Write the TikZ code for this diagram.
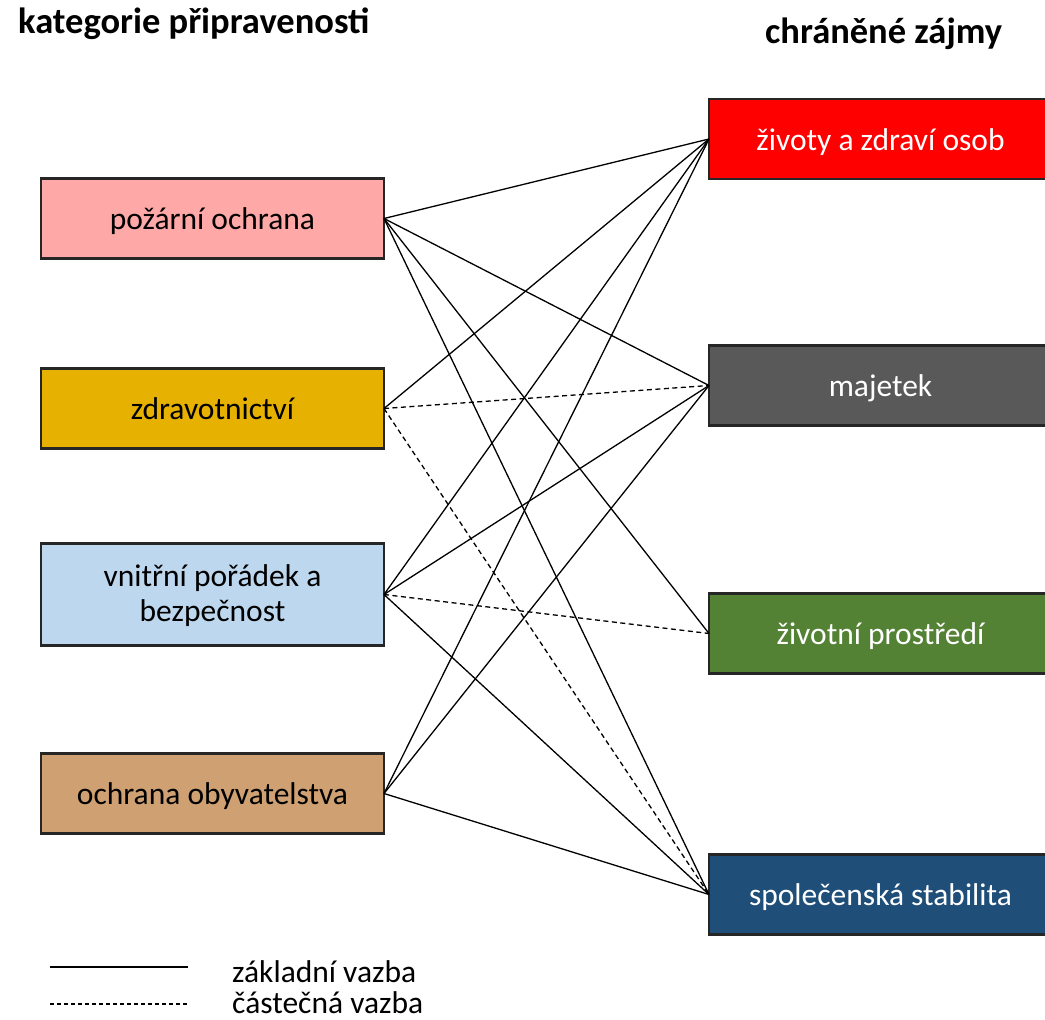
\documentclass[tikz,border=0pt]{standalone}
\usepackage{fontspec}
\setmainfont{Carlito}
\definecolor{boxline}{HTML}{262626}
\definecolor{cPO}{HTML}{FFA8A8}
\definecolor{cZD}{HTML}{E6B100}
\definecolor{cVN}{HTML}{BDD7EE}
\definecolor{cOB}{HTML}{CFA072}
\definecolor{cZI}{HTML}{FF0000}
\definecolor{cMA}{HTML}{595959}
\definecolor{cZP}{HTML}{548235}
\definecolor{cSS}{HTML}{1F4E79}
\begin{document}
\begin{tikzpicture}[x=1pt,y=-1pt,
  box/.style={draw=boxline, line width=2.2pt, minimum width=343pt, minimum height=80pt, inner sep=0pt, outer sep=0pt},
  lbl/.style={anchor=base, inner sep=0pt, font=\fontsize{31.5}{37}\selectfont},
  title/.style={anchor=base west, inner sep=0pt, font=\fontsize{36.5}{44}\selectfont\bfseries},
  link/.style={line width=1.3pt, black},
  partial/.style={link, dash pattern=on 5pt off 3.5pt}]
\useasboundingbox (0,0) rectangle (1045,1020);
\clip (0,0) rectangle (1045,1020);

% titles
\node[title] (t1) at (18,33) {kategorie připravenosti};
\node[title] (t2) at (765,43) {chráněné zájmy};

% left boxes
\node[box, fill=cPO] (po) at (212.5,218.5) {};
\node[box, fill=cZD] (zd) at (212.5,408.5) {};
\node[box, fill=cVN, minimum height=102pt] (vn) at (212.5,594.5) {};
\node[box, fill=cOB] (ob) at (212.5,793.5) {};

% right boxes
\node[box, fill=cZI] (zi) at (880.5,139) {};
\node[box, fill=cMA] (ma) at (880.5,385.5) {};
\node[box, fill=cZP] (zp) at (880.5,633.5) {};
\node[box, fill=cSS] (ss) at (880.5,894.5) {};

% labels
\node[lbl] (po-t) at ([yshift=-11pt]po.center) {požární ochrana};
\node[lbl] (zd-t) at ([yshift=-11pt]zd.center) {zdravotnictví};
\node[lbl] (vn-t1) at ([yshift=8pt]vn.center) {vnitřní pořádek a};
\node[lbl] (vn-t2) at ([yshift=-27pt]vn.center) {bezpečnost};
\node[lbl] (ob-t) at ([yshift=-11pt]ob.center) {ochrana obyvatelstva};
\node[lbl, text=white] (zi-t) at ([yshift=-11pt]zi.center) {životy a zdraví osob};
\node[lbl, text=white] (ma-t) at ([yshift=-11pt]ma.center) {majetek};
\node[lbl, text=white] (zp-t) at ([yshift=-11pt]zp.center) {životní prostředí};
\node[lbl, text=white] (ss-t) at ([yshift=-11pt]ss.center) {společenská stabilita};

% connectors
\draw[link] (po.east) -- (zi.west);
\draw[link] (po.east) -- (ma.west);
\draw[link] (po.east) -- (zp.west);
\draw[link] (po.east) -- (ss.west);
\draw[link] (zd.east) -- (zi.west);
\draw[partial] (zd.east) -- (ma.west);
\draw[partial] (zd.east) -- (ss.west);
\draw[link] (vn.east) -- (zi.west);
\draw[link] (vn.east) -- (ma.west);
\draw[partial] (vn.east) -- (zp.west);
\draw[link] (vn.east) -- (ss.west);
\draw[link] (ob.east) -- (zi.west);
\draw[link] (ob.east) -- (ma.west);
\draw[link] (ob.east) -- (ss.west);

% legend
\coordinate (l1a) at (50,967);
\coordinate (l1b) at (188,967);
\coordinate (l2a) at (50,1004);
\coordinate (l2b) at (188,1004);
\draw[link] (l1a) -- (l1b);
\draw[link, dash pattern=on 4pt off 3pt] (l2a) -- (l2b);
\node[lbl, anchor=base west] (lg1) at (232,982) {základní vazba};
\node[lbl, anchor=base west] (lg2) at (232,1013) {částečná vazba};
\end{tikzpicture}
\end{document}
